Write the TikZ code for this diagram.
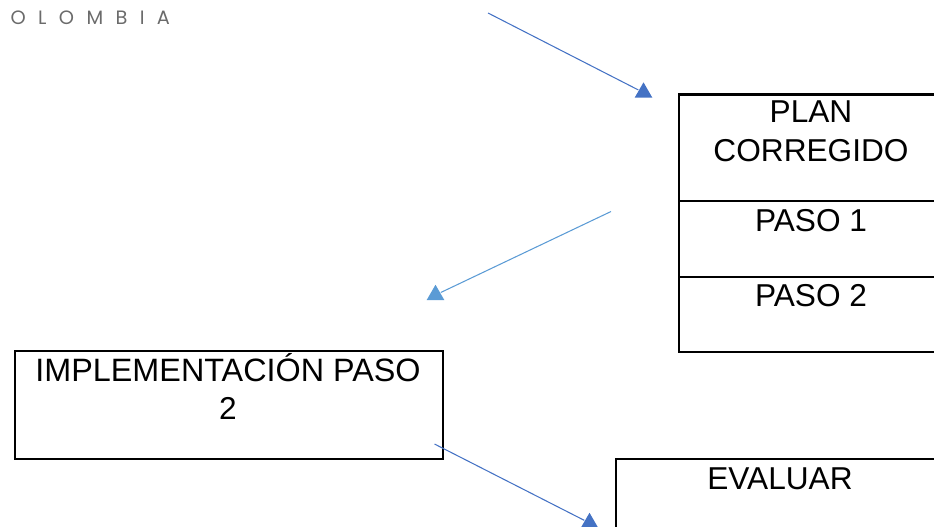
\documentclass[tikz,border=0pt]{standalone}
\usepackage{fontspec}
\setmainfont{Liberation Sans}
\newfontfamily\logofont[LetterSpace=64]{Poppins}
\usepackage{tikz}
\usetikzlibrary{shapes.geometric}
\definecolor{flechaA}{HTML}{4472C4}
\definecolor{flechaB}{HTML}{5B9BD5}

\begin{document}
\begin{tikzpicture}[thick]
    %
    % `caja' is the empty frame, `texto' the words set inside it.
    % `punta' is the upright triangle closing each arrow.
    \tikzstyle{caja} = [draw,line width=1.3pt,inner sep=0pt,anchor=north west]
    \tikzstyle{texto} = [font=\fontsize{18}{21.6}\selectfont,align=center,inner sep=0pt,anchor=base]
    \tikzstyle{punta} = [shape=regular polygon,regular polygon sides=3,minimum size=0.41cm,inner sep=0pt]
    \tikzstyle{linea} = [line width=0.6pt]
    %
    \clip (0,0) rectangle (18.68,-10.54);
    %
    % Logo
    \node[anchor=base west,inner sep=0pt,text=black!58,font=\logofont\fontsize{11}{13}\selectfont] (logo) at (0.2,-0.5) {OLOMBIA};
    %
    % Plan
    \node[caja,minimum width=5.32cm,minimum height=2.12cm] (plan) at (13.55,-1.87) {};
    \node[caja,minimum width=5.32cm,minimum height=1.52cm] (paso1) at (13.55,-3.99) {};
    \node[caja,minimum width=5.32cm,minimum height=1.5cm] (paso2) at (13.55,-5.51) {};
    \node[texto] (tplana) at (16.22,-2.46) {PLAN};
    \node[texto] (tplanb) at (16.22,-3.22) {CORREGIDO};
    \node[texto] (tpaso1) at (16.22,-4.62) {PASO 1};
    \node[texto] (tpaso2) at (16.22,-6.12) {PASO 2};
    %
    % Implementation
    \node[caja,minimum width=8.56cm,minimum height=2.16cm] (impl) at (0.27,-6.99) {};
    \node[texto,font=\fontsize{18.4}{21.6}\selectfont] (timpla) at (4.56,-7.62) {IMPLEMENTACIÓN PASO};
    \node[texto] (timplb) at (4.56,-8.38) {2};
    %
    % Evaluate
    \node[caja,minimum width=6.6cm,minimum height=2.2cm] (eval) at (12.29,-9.15) {};
    \node[texto] (teval) at (15.6,-9.78) {EVALUAR};
    %
    % Arrows
    \coordinate (ini1) at (9.76,-0.26);
    \coordinate (ini2) at (12.22,-4.23);
    \coordinate (ini3) at (8.69,-8.88);
    \node[punta,fill=flechaA] (tip1) at (12.87,-1.852) {};
    \node[punta,fill=flechaB] (tip2) at (8.71,-5.9) {};
    \node[punta,fill=flechaA] (tip3) at (11.79,-10.46) {};
    \draw[linea,flechaA] (ini1) -- (tip1);
    \draw[linea,flechaB] (ini2) -- (tip2);
    \draw[linea,flechaA] (ini3) -- (tip3);
    %
\end{tikzpicture}
\end{document}
